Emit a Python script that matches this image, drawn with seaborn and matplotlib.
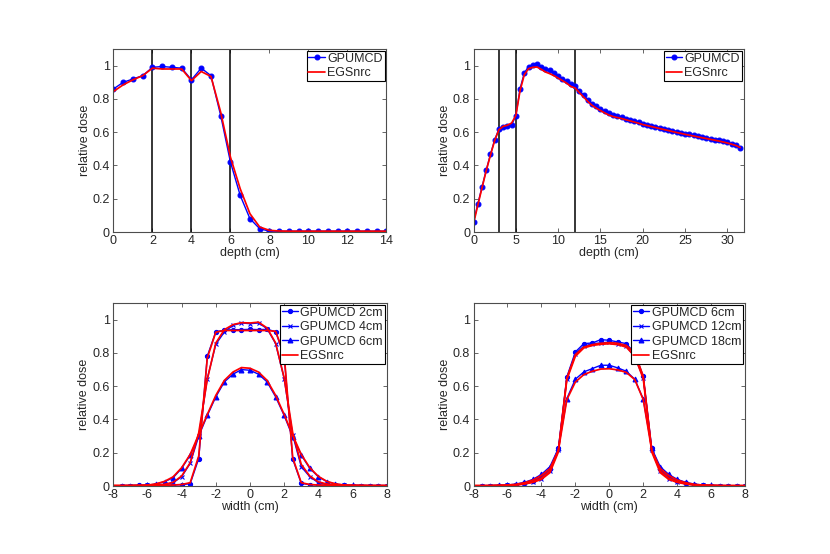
import matplotlib
matplotlib.use("Agg")
import matplotlib.pyplot as plt
import seaborn as sns
import numpy as np
import pandas as pd
from matplotlib.ticker import FuncFormatter

# ---------------- data ----------------
# top-left depth dose
depth_a = [0, 0.5, 1, 1.5, 2, 2.5, 3, 3.5, 4, 4.5, 5, 5.5, 6, 6.5, 7, 7.5, 8,
           8.5, 9, 9.5, 10, 10.5, 11, 11.5, 12, 12.5, 13, 13.5, 14]
gpu_a = [0.86, 0.90, 0.92, 0.94, 0.99, 0.995, 0.99, 0.985, 0.915, 0.985, 0.94, 0.70, 0.42,
         0.22, 0.08, 0.02, 0.005, 0.005, 0.005, 0.005, 0.005, 0.005, 0.005, 0.005, 0.005,
         0.005, 0.005, 0.005, 0.005]
egs_a = [0.845, 0.885, 0.915, 0.94, 0.985, 0.98, 0.98, 0.98, 0.91, 0.965, 0.935, 0.72, 0.45,
         0.26, 0.11, 0.03, 0.01, 0.006, 0.005, 0.005, 0.005, 0.005, 0.005, 0.005, 0.005,
         0.005, 0.005, 0.005, 0.005]
interfaces_a = [2, 4, 6]

# top-right depth dose
depth_b = [0, 0.5, 1, 1.5, 2, 2.5, 3, 3.5, 4, 4.5, 5, 5.5, 6, 6.5, 7, 7.5, 8, 8.5, 9, 9.5,
           10, 10.5, 11, 11.5, 12, 12.5, 13, 13.5, 14, 14.5, 15, 15.5, 16, 16.5, 17, 17.5,
           18, 18.5, 19, 19.5, 20, 20.5, 21, 21.5, 22, 22.5, 23, 23.5, 24, 24.5, 25, 25.5,
           26, 26.5, 27, 27.5, 28, 28.5, 29, 29.5, 30, 30.5, 31, 31.5]
gpu_b = [0.06, 0.167, 0.27, 0.372, 0.466, 0.554, 0.619, 0.632, 0.636, 0.643, 0.699, 0.862,
         0.956, 0.994, 1.006, 1.012, 0.993, 0.978, 0.972, 0.956, 0.935, 0.920, 0.907, 0.889,
         0.880, 0.845, 0.825, 0.795, 0.770, 0.755, 0.740, 0.728, 0.715, 0.706, 0.698, 0.690,
         0.682, 0.675, 0.668, 0.660, 0.652, 0.646, 0.640, 0.633, 0.628, 0.621, 0.615, 0.610,
         0.604, 0.598, 0.592, 0.587, 0.582, 0.576, 0.572, 0.566, 0.561, 0.556, 0.552, 0.546,
         0.539, 0.532, 0.523, 0.508]
egs_b = [0.05, 0.16, 0.265, 0.368, 0.462, 0.55, 0.615, 0.635, 0.642, 0.655, 0.70, 0.850,
         0.945, 0.982, 0.990, 0.992, 0.978, 0.962, 0.952, 0.940, 0.925, 0.910, 0.895, 0.875,
         0.866, 0.838, 0.812, 0.785, 0.762, 0.745, 0.730, 0.716, 0.703, 0.694, 0.688, 0.682,
         0.675, 0.668, 0.661, 0.654, 0.646, 0.640, 0.634, 0.628, 0.622, 0.616, 0.610, 0.604,
         0.598, 0.593, 0.587, 0.582, 0.577, 0.572, 0.567, 0.562, 0.557, 0.552, 0.547, 0.541,
         0.535, 0.528, 0.520, 0.508]
interfaces_b = [3, 5, 12]

# profiles
width_gpu = [-7.5, -7, -6.5, -6, -5.5, -5, -4.5, -4, -3.5, -3, -2.5, -2, -1.5, -1, -0.5, 0,
             0.5, 1, 1.5, 2, 2.5, 3, 3.5, 4, 4.5, 5, 5.5, 6, 6.5, 7, 7.5, 8]
width_egs = [-8, -7.5, -7, -6.5, -6, -5.5, -5, -4.5, -4, -3.5, -3, -2.5, -2, -1.5, -1, -0.5, 0,
             0.5, 1, 1.5, 2, 2.5, 3, 3.5, 4, 4.5, 5, 5.5, 6, 6.5, 7, 7.5, 8]

# bottom-left: depths 2, 4, 6 cm
gpu_c2 = [0.003, 0.003, 0.004, 0.004, 0.005, 0.005, 0.006, 0.008, 0.014, 0.165, 0.78, 0.928,
          0.936, 0.94, 0.94, 0.942, 0.94, 0.942, 0.928, 0.78, 0.162, 0.016, 0.008, 0.006,
          0.005, 0.004, 0.004, 0.003, 0.003, 0.003, 0.003, 0.003]
gpu_c4 = [0.002, 0.003, 0.003, 0.004, 0.006, 0.01, 0.02, 0.056, 0.136, 0.30, 0.646, 0.852,
          0.926, 0.966, 0.98, 0.976, 0.98, 0.946, 0.856, 0.646, 0.306, 0.116, 0.056, 0.02,
          0.01, 0.006, 0.004, 0.003, 0.003, 0.002, 0.002, 0.002]
gpu_c6 = [0.002, 0.002, 0.003, 0.005, 0.012, 0.026, 0.05, 0.106, 0.186, 0.30, 0.424, 0.536,
          0.626, 0.672, 0.70, 0.696, 0.672, 0.626, 0.536, 0.424, 0.296, 0.186, 0.106, 0.056,
          0.026, 0.012, 0.006, 0.004, 0.003, 0.002, 0.002, 0.002]
egs_c2 = [0.003, 0.003, 0.003, 0.004, 0.004, 0.005, 0.005, 0.006, 0.009, 0.02, 0.18, 0.77,
          0.925, 0.935, 0.935, 0.935, 0.935, 0.935, 0.935, 0.93, 0.79, 0.17, 0.02, 0.009,
          0.006, 0.005, 0.004, 0.004, 0.003, 0.003, 0.003, 0.003, 0.003]
egs_c4 = [0.002, 0.002, 0.003, 0.003, 0.004, 0.006, 0.01, 0.022, 0.06, 0.14, 0.32, 0.64,
          0.86, 0.94, 0.97, 0.982, 0.98, 0.985, 0.95, 0.86, 0.65, 0.32, 0.13, 0.06, 0.025,
          0.012, 0.006, 0.004, 0.003, 0.003, 0.002, 0.002, 0.002]
egs_c6 = [0.002, 0.002, 0.002, 0.003, 0.005, 0.013, 0.028, 0.055, 0.11, 0.19, 0.31, 0.43,
          0.545, 0.635, 0.685, 0.712, 0.708, 0.685, 0.635, 0.545, 0.43, 0.305, 0.19, 0.11,
          0.058, 0.028, 0.013, 0.006, 0.004, 0.003, 0.002, 0.002, 0.002]

# bottom-right: depths 6, 12, 18 cm
gpu_d6 = [0.002, 0.002, 0.003, 0.004, 0.008, 0.016, 0.03, 0.055, 0.1, 0.226, 0.656, 0.806,
          0.856, 0.86, 0.88, 0.876, 0.866, 0.856, 0.80, 0.66, 0.226, 0.10, 0.055, 0.03,
          0.016, 0.008, 0.004, 0.003, 0.002, 0.002, 0.002, 0.002]
gpu_d12 = [0.002, 0.002, 0.003, 0.004, 0.007, 0.014, 0.025, 0.045, 0.09, 0.216, 0.646, 0.796,
           0.84, 0.856, 0.86, 0.866, 0.856, 0.84, 0.776, 0.652, 0.216, 0.09, 0.045, 0.025,
           0.014, 0.007, 0.004, 0.003, 0.002, 0.002, 0.002, 0.002]
gpu_d18 = [0.002, 0.003, 0.004, 0.006, 0.012, 0.022, 0.04, 0.07, 0.116, 0.226, 0.526, 0.642,
           0.686, 0.706, 0.726, 0.726, 0.71, 0.69, 0.642, 0.522, 0.226, 0.116, 0.07, 0.04,
           0.022, 0.012, 0.006, 0.004, 0.003, 0.002, 0.002, 0.002]
egs_d6 = [0.002, 0.002, 0.002, 0.003, 0.004, 0.007, 0.014, 0.026, 0.048, 0.09, 0.215, 0.65,
          0.79, 0.835, 0.85, 0.858, 0.862, 0.858, 0.845, 0.80, 0.66, 0.215, 0.09, 0.048,
          0.026, 0.014, 0.007, 0.004, 0.003, 0.002, 0.002, 0.002, 0.002]
egs_d12 = [0.002, 0.002, 0.002, 0.003, 0.004, 0.006, 0.012, 0.022, 0.04, 0.08, 0.205, 0.64,
           0.78, 0.83, 0.845, 0.852, 0.855, 0.85, 0.835, 0.78, 0.645, 0.205, 0.08, 0.04,
           0.022, 0.012, 0.006, 0.004, 0.003, 0.002, 0.002, 0.002, 0.002]
egs_d18 = [0.002, 0.002, 0.003, 0.004, 0.006, 0.01, 0.02, 0.036, 0.064, 0.105, 0.215, 0.52,
           0.625, 0.67, 0.69, 0.703, 0.705, 0.698, 0.683, 0.64, 0.52, 0.215, 0.105, 0.064,
           0.036, 0.02, 0.01, 0.006, 0.004, 0.003, 0.002, 0.002, 0.002]

# ---------------- style ----------------
sns.set_style("white")
plt.rcParams['font.family'] = ['Liberation Sans', 'DejaVu Sans']
plt.rcParams['font.size'] = 8.5

BLUE = '#0000ff'
RED = '#ff0000'
SPINE = '#4d4d4d'

fig = plt.figure(figsize=(8.3, 5.54), dpi=100)
ax_tl = fig.add_axes([0.1367, 0.5812, 0.3289, 0.3303])
ax_tr = fig.add_axes([0.5705, 0.5812, 0.3253, 0.3303])
ax_bl = fig.add_axes([0.1365, 0.1227, 0.3294, 0.3303])
ax_br = fig.add_axes([0.5705, 0.1227, 0.3272, 0.3303])

fmt = FuncFormatter(lambda v, p: ('%g' % round(v, 6)))


def style(ax, xlim, xticks, xlabel):
    ax.set_xlim(*xlim)
    ax.set_ylim(0, 1.1)
    ax.set_xticks(xticks)
    ax.set_yticks([0, 0.2, 0.4, 0.6, 0.8, 1])
    ax.xaxis.set_major_formatter(fmt)
    ax.yaxis.set_major_formatter(fmt)
    ax.tick_params(direction='in', length=3, width=0.6, color=SPINE, top=True, right=True,
                   labelsize=9, pad=2.5, bottom=True, left=True)
    for s in ax.spines.values():
        s.set_color(SPINE)
        s.set_linewidth(0.8)
        s.set_visible(True)
    ax.set_xlabel(xlabel, fontsize=9, labelpad=0)
    ax.set_ylabel('relative dose', fontsize=9, labelpad=1.5)
    leg = ax.legend(loc='upper right', frameon=True, fancybox=False, edgecolor='black',
                    fontsize=9, borderaxespad=0.15, handlelength=1.3, handletextpad=0.2,
                    borderpad=0.15, labelspacing=0.2, framealpha=1)
    leg.get_frame().set_linewidth(0.8)


def gline(ax, x, y, marker, ms, label):
    sns.lineplot(x=x, y=y, ax=ax, color=BLUE, linewidth=1.0, marker=marker,
                 markersize=ms, markeredgecolor=BLUE, markerfacecolor=BLUE,
                 markeredgewidth=0.8, label=label, sort=False, estimator=None)


def rline(ax, x, y, label):
    sns.lineplot(x=x, y=y, ax=ax, color=RED, linewidth=1.25, label=label,
                 sort=False, estimator=None)


# top-left
for xv in interfaces_a:
    ax_tl.axvline(xv, color='black', linewidth=1.1, zorder=1)
gline(ax_tl, depth_a, gpu_a, 'o', 3.5, 'GPUMCD')
rline(ax_tl, depth_a, egs_a, 'EGSnrc')
style(ax_tl, (0, 14), [0, 2, 4, 6, 8, 10, 12, 14], 'depth (cm)')

# top-right
for xv in interfaces_b:
    ax_tr.axvline(xv, color='black', linewidth=1.1, zorder=1)
gline(ax_tr, depth_b, gpu_b, 'o', 3.5, 'GPUMCD')
rline(ax_tr, depth_b, egs_b, 'EGSnrc')
style(ax_tr, (0, 31.9), [0, 5, 10, 15, 20, 25, 30], 'depth (cm)')

# bottom-left
gline(ax_bl, width_gpu, gpu_c2, 'o', 3.0, 'GPUMCD 2cm')
gline(ax_bl, width_gpu, gpu_c4, 'x', 2.5, 'GPUMCD 4cm')
gline(ax_bl, width_gpu, gpu_c6, '^', 3.5, 'GPUMCD 6cm')
rline(ax_bl, width_egs, egs_c2, 'EGSnrc')
rline(ax_bl, width_egs, egs_c4, None)
rline(ax_bl, width_egs, egs_c6, None)
style(ax_bl, (-8, 8), [-8, -6, -4, -2, 0, 2, 4, 6, 8], 'width (cm)')

# bottom-right
gline(ax_br, width_gpu, gpu_d6, 'o', 3.0, 'GPUMCD 6cm')
gline(ax_br, width_gpu, gpu_d12, 'x', 2.5, 'GPUMCD 12cm')
gline(ax_br, width_gpu, gpu_d18, '^', 3.5, 'GPUMCD 18cm')
rline(ax_br, width_egs, egs_d6, 'EGSnrc')
rline(ax_br, width_egs, egs_d12, None)
rline(ax_br, width_egs, egs_d18, None)
style(ax_br, (-8, 8), [-8, -6, -4, -2, 0, 2, 4, 6, 8], 'width (cm)')

fig.savefig('out.png', dpi=100, facecolor='white')
